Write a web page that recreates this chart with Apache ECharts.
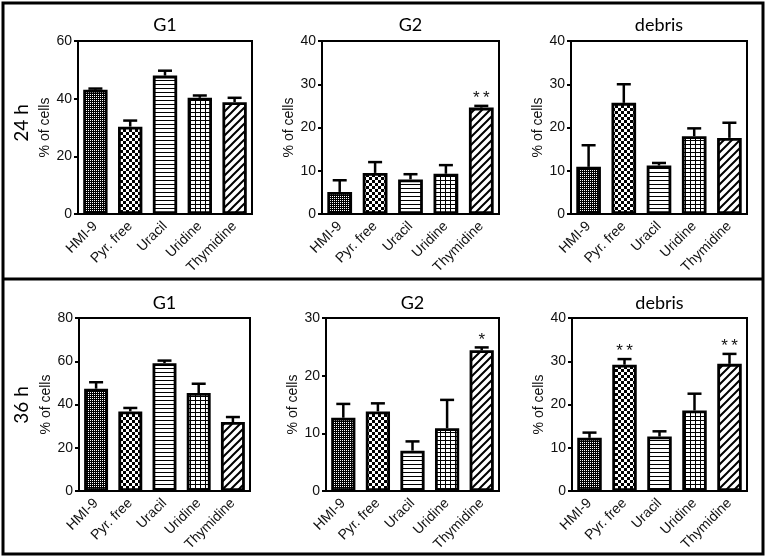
<!DOCTYPE html>
<html><head><meta charset="utf-8">
<script src="https://cdn.jsdelivr.net/npm/echarts@6/dist/echarts.min.js"></script>
<style>html,body{margin:0;padding:0;background:#fff}#c{width:768px;height:560px}</style>
</head><body><div id="c"></div>
<script>
// ---- data ----
const categories = ['HMI-9', 'Pyr. free', 'Uracil', 'Uridine', 'Thymidine'];
const panelTitles = ['G1', 'G2', 'debris'];
const rowLabels = ['24 h', '36 h'];
const yAxisName = '% of cells';

const g1_24h = [43.1, 30.3, 48.0, 40.3, 38.8];
const g1_24h_err = [0.4, 2.1, 1.7, 0.8, 1.5];
const g2_24h = [5.1, 9.5, 8.0, 9.3, 24.6];
const g2_24h_err = [2.7, 2.5, 1.2, 2.0, 0.4];
const debris_24h = [10.9, 25.7, 11.2, 18.0, 17.6];
const debris_24h_err = [5.0, 4.3, 0.6, 1.8, 3.5];

const g1_36h = [47.3, 36.8, 59.1, 45.3, 31.9];
const g1_36h_err = [3.0, 1.6, 1.2, 4.3, 2.3];
const g2_36h = [12.7, 13.8, 7.0, 10.9, 24.4];
const g2_36h_err = [2.4, 1.4, 1.6, 4.9, 0.5];
const debris_36h = [12.3, 29.2, 12.6, 18.6, 29.4];
const debris_36h_err = [1.2, 1.3, 1.2, 3.9, 2.3];

const stars_g1_24h = ['', '', '', '', ''];
const stars_g2_24h = ['', '', '', '', '**'];
const stars_debris_24h = ['', '', '', '', ''];
const stars_g1_36h = ['', '', '', '', ''];
const stars_g2_36h = ['', '', '', '', '*'];
const stars_debris_36h = ['', '**', '', '', '**'];

const yMaxes = [60, 40, 40, 80, 30, 40];
const yIntervals = [20, 10, 10, 20, 10, 10];

// ---- layout (pixels) ----
const grids = [
  {left: 78, top: 41, width: 174, height: 173},
  {left: 322, top: 41, width: 177, height: 173},
  {left: 571, top: 41, width: 176, height: 173},
  {left: 79, top: 318, width: 171, height: 173},
  {left: 326, top: 318, width: 173, height: 173},
  {left: 572, top: 318, width: 175, height: 173}
];
const nameGaps = [24, 21, 24, 25, 26, 24];
const titleY = [24, 302];
const rowLabelY = [123, 405];

const panels = [
  {vals: g1_24h, errs: g1_24h_err, stars: stars_g1_24h},
  {vals: g2_24h, errs: g2_24h_err, stars: stars_g2_24h},
  {vals: debris_24h, errs: debris_24h_err, stars: stars_debris_24h},
  {vals: g1_36h, errs: g1_36h_err, stars: stars_g1_36h},
  {vals: g2_36h, errs: g2_36h_err, stars: stars_g2_36h},
  {vals: debris_36h, errs: debris_36h_err, stars: stars_debris_36h}
];

// ---- fill patterns ----
function tile(w, h, draw) {
  const c = document.createElement('canvas');
  c.width = w; c.height = h;
  const g = c.getContext('2d');
  g.fillStyle = '#fff'; g.fillRect(0, 0, w, h);
  g.fillStyle = '#000'; g.strokeStyle = '#000';
  draw(g);
  return {image: c, repeat: 'repeat'};
}
const patterns = [
  tile(2, 2, g => { g.fillRect(0, 0, 2, 2); g.fillStyle = '#fff'; g.fillRect(0, 0, 1, 1); }),
  tile(6, 6, g => { g.fillRect(0, 0, 3, 3); g.fillRect(3, 3, 3, 3); }),
  tile(4, 4, g => { g.fillRect(0, 0, 4, 1); }),
  tile(5, 4, g => { g.fillRect(0, 0, 5, 1); g.fillRect(0, 0, 1, 4); }),
  tile(8, 8, g => {
    g.lineWidth = 2; g.beginPath();
    for (let k = -1; k <= 1; k++) { g.moveTo(-2 + k * 8, 10); g.lineTo(10 + k * 8, -2); }
    g.stroke();
  })
];

const FONT = '"Liberation Sans", Arial, sans-serif';
const TFONT = 'Lato, "Open Sans", sans-serif';

const grid = [], xAxis = [], yAxis = [], series = [];
panels.forEach((p, i) => {
  grid.push(Object.assign({show: true, borderColor: '#000', borderWidth: 2, backgroundColor: 'transparent'}, grids[i]));
  xAxis.push({
    gridIndex: i, type: 'category', data: categories,
    axisLine: {lineStyle: {color: '#000', width: 2}},
    axisTick: {alignWithLabel: true, length: 5, lineStyle: {color: '#000', width: 2}},
    axisLabel: {rotate: 45, interval: 0, color: '#111', fontFamily: FONT, fontSize: 14, margin: 10}
  });
  yAxis.push({
    gridIndex: i, type: 'value', min: 0, max: yMaxes[i], interval: yIntervals[i],
    name: yAxisName, nameLocation: 'middle', nameRotate: 90, nameGap: nameGaps[i],
    nameTextStyle: {color: '#111', fontFamily: FONT, fontSize: 14},
    axisLine: {show: true, lineStyle: {color: '#000', width: 2}},
    axisTick: {show: true, length: 4, lineStyle: {color: '#000', width: 2}},
    axisLabel: {color: '#111', fontFamily: FONT, fontSize: 14, margin: 6},
    splitLine: {show: false}
  });
  series.push({
    type: 'bar', xAxisIndex: i, yAxisIndex: i, barWidth: '70%', z: 2,
    itemStyle: {borderColor: '#000', borderWidth: 2.8},
    data: p.vals.map((v, j) => ({value: v, itemStyle: {color: patterns[j]}}))
  });
  const stars = p.stars;
  series.push({
    type: 'custom', xAxisIndex: i, yAxisIndex: i, z: 5,
    data: p.vals.map((v, j) => [j, v, p.errs[j]]),
    renderItem: (params, api) => {
      const j = api.value(0), v = api.value(1), e = api.value(2);
      const p0 = api.coord([j, v]), p1 = api.coord([j, v + e]);
      const children = [
        {type: 'line', shape: {x1: p0[0], y1: p0[1], x2: p1[0], y2: p1[1]}, style: {stroke: '#000', lineWidth: 2.5}},
        {type: 'line', shape: {x1: p1[0] - 7, y1: p1[1], x2: p1[0] + 7, y2: p1[1]}, style: {stroke: '#000', lineWidth: 2.5}}
      ];
      const s = stars[params.dataIndex];
      if (s) {
        children.push({type: 'text', x: p1[0], y: p1[1] + 1,
          style: {text: s.split('').join('\u2009'), fill: '#111', font: '17px ' + FONT, textAlign: 'center', textVerticalAlign: 'bottom', align: 'center', verticalAlign: 'bottom'}});
      }
      return {type: 'group', children};
    }
  });
});

const graphic = [
  {type: 'rect', shape: {x: 3, y: 3, width: 760, height: 551}, style: {fill: null, stroke: '#000', lineWidth: 3}},
  {type: 'line', shape: {x1: 3, y1: 279, x2: 763, y2: 279}, style: {stroke: '#000', lineWidth: 3}}
];
grids.forEach((g, i) => {
  graphic.push({type: 'text', x: g.left + g.width / 2, y: titleY[Math.floor(i / 3)] + 1,
    style: {text: panelTitles[i % 3], fill: '#000', font: '18px ' + TFONT, textAlign: 'center', textVerticalAlign: 'middle', align: 'center', verticalAlign: 'middle'}});
});
rowLabels.forEach((t, r) => {
  graphic.push({type: 'text', x: 22, y: rowLabelY[r], rotation: Math.PI / 2,
    style: {text: t, fill: '#000', font: '19px ' + TFONT, textAlign: 'center', textVerticalAlign: 'middle', align: 'center', verticalAlign: 'middle'}});
});

const chart = echarts.init(document.getElementById('c'), null, {renderer: 'canvas'});
chart.setOption({animation: false, backgroundColor: '#fff', grid, xAxis, yAxis, series, graphic});
</script></body></html>
